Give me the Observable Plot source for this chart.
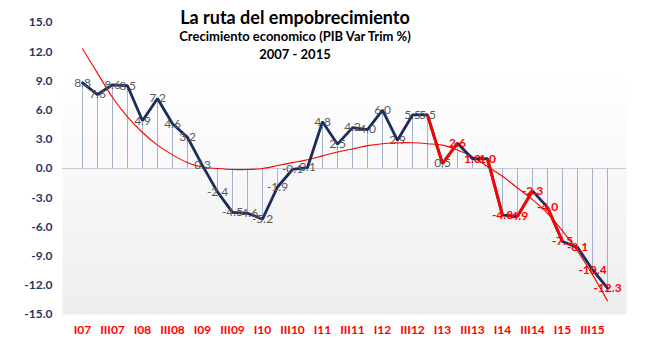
<!DOCTYPE html>
<html><head><meta charset="utf-8">
<script src="https://cdn.jsdelivr.net/npm/d3@7"></script>
<script src="https://cdn.jsdelivr.net/npm/@observablehq/plot@0.6"></script>
<style>
body{margin:0;background:#fff;}
#wrap{position:relative;width:659px;height:350px;font-family:Lato, "Open Sans", sans-serif;}
.t{position:absolute;left:295px;transform:translateX(-50%);white-space:nowrap;font-weight:bold;color:#000;line-height:1;}
</style></head><body>
<div id="wrap">
<div class="t" style="top:8px;font-size:18px">La ruta del empobrecimiento</div>
<div class="t" style="top:30px;font-size:13px">Crecimiento economico (PIB Var Trim %)</div>
<div class="t" style="top:48px;font-size:13px">2007 - 2015</div>
</div>
<script>
const quarters = ["I07","II07","III07","IV07","I08","II08","III08","IV08","I09","II09","III09","IV09",
  "I10","II10","III10","IV10","I11","II11","III11","IV11","I12","II12","III12","IV12",
  "I13","II13","III13","IV13","I14","II14","III14","IV14","I15","II15","III15","IV15"];
const growth = [8.8,7.6,8.6,8.5,4.9,7.2,4.6,3.2,0.3,-2.4,-4.5,-4.6,
  -5.2,-1.9,-0.1,0.1,4.8,2.5,4.2,4.0,6.0,2.9,5.5,5.5,
  0.5,2.6,1.0,1.0,-4.8,-4.9,-2.3,-4.0,-7.5,-8.1,-10.4,-12.3];
const trend = [12.3,9.8,7.3,5.3,3.7,2.4,1.4,0.6,0.15,0.0,-0.1,-0.1,
  0.0,0.3,0.6,0.9,1.3,1.7,2.0,2.35,2.55,2.65,2.65,2.55,
  2.4,1.9,1.2,0.2,-0.8,-2.0,-3.2,-4.6,-6.4,-8.5,-10.9,-13.6];
const redSegments = [["IV12","I13"],["I13","II13"],["IV13","I14"],["II14","III14"],["IV14","I15"]];
const redLabelQuarters = quarters.slice(25);
const yTicks = [-15,-12,-9,-6,-3,0,3,6,9,12,15];
const xTicks = quarters.filter((q,i)=>i%2===0);

const data = quarters.map((q,i)=>({q, v: growth[i], t: trend[i], red: redLabelQuarters.includes(q)}));
const val = Object.fromEntries(data.map(d=>[d.q,d.v]));
const segs = redSegments.map(([a,b])=>({a,b,va:val[a],vb:val[b]}));

const defs = () => {
  const d = d3.create("svg:defs");
  const g = d.append("linearGradient").attr("id","bg").attr("x1",0).attr("y1",0).attr("x2",0).attr("y2",1);
  g.append("stop").attr("offset","0%").attr("stop-color","#ffffff");
  g.append("stop").attr("offset","100%").attr("stop-color","#eeeeee");
  return d.node();
};

const chart = Plot.plot({
  width: 659, height: 350,
  marginLeft: 62, marginRight: 33, marginTop: 73, marginBottom: 36,
  style: {fontFamily: "Lato, 'Open Sans', sans-serif", background: "transparent"},
  x: {type: "point", domain: quarters, range: [70, 618.3]},
  y: {domain: [-15, 15], range: [314, 22]},
  marks: [
    defs,
    Plot.frame({fill: "url(#bg)", stroke: "none"}),
    Plot.ruleY([0], {stroke: "#c3c9d6", strokeWidth: 1}),
    Plot.ruleX(data, {x: "q", y1: 0, y2: "v", stroke: "#a3b1cc", strokeWidth: 1}),
    Plot.line(data, {x: "q", y: "t", stroke: "#ff0000", strokeWidth: 1.1, curve: "catmull-rom"}),
    Plot.line(data, {x: "q", y: "v", stroke: "#1b2b5e", strokeWidth: 2.8, strokeLinejoin: "miter"}),
    Plot.link(segs, {x1: "a", x2: "b", y1: "va", y2: "vb", stroke: "#ff0000", strokeWidth: 2.8}),
    Plot.text(data.filter(d=>!d.red), {x: "q", y: "v", text: d=>d.v.toFixed(1), fill: "#595959", fontSize: 12}),
    Plot.text(data.filter(d=>d.red), {x: "q", y: "v", text: d=>d.v.toFixed(1), fill: "#ff0000", fontSize: 12, fontWeight: "bold"}),
    Plot.axisY({ticks: yTicks, tickFormat: d=>d.toFixed(1), tickSize: 0, tickPadding: 10, fill: "#1f3864", fontWeight: "bold", fontSize: 12, label: null}),
    Plot.axisX({ticks: xTicks, tickSize: 0, tickPadding: 11, fill: "#ff0000", fontWeight: "bold", fontSize: 12, label: null})
  ]
});
document.getElementById("wrap").prepend(chart);
</script>
</body></html>
